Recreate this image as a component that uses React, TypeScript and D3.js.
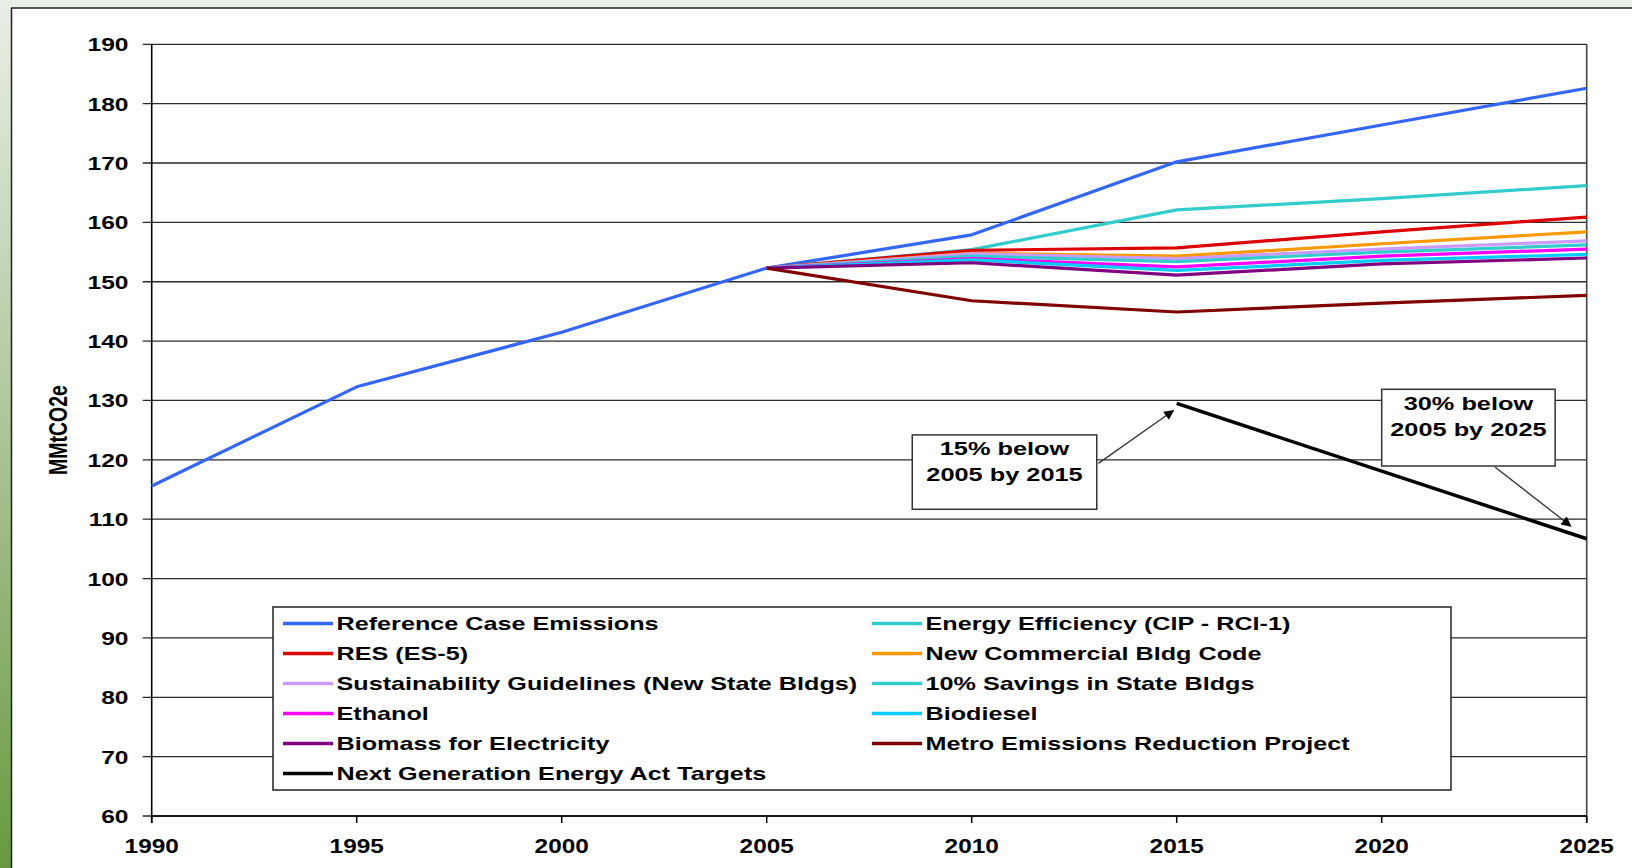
import React from 'react';
import * as d3 from 'd3';

// ---------- DATA ----------
const historyYears = [1990, 1995, 2000, 2005, 2010, 2015, 2020, 2025];
const scenarioYears = [2005, 2010, 2015, 2020, 2025];
const targetYears = [2015, 2025];

const referenceCase = [115.6, 132.3, 141.5, 152.3, 157.9, 170.2, 176.4, 182.6];
const energyEfficiency = [152.3, 155.4, 162.1, 164.0, 166.2];
const resES5 = [152.3, 155.3, 155.7, 158.4, 160.9];
const newCommercialBldg = [152.3, 154.8, 154.3, 156.4, 158.4];
const sustainability = [152.3, 154.7, 153.9, 155.5, 156.9];
const savings10 = [152.3, 154.3, 153.4, 155.0, 156.2];
const ethanol = [152.3, 153.9, 152.5, 154.3, 155.5];
const biodiesel = [152.3, 153.7, 151.9, 153.6, 154.6];
const biomass = [152.3, 153.2, 151.1, 153.0, 154.0];
const metroProject = [152.3, 146.8, 144.9, 146.4, 147.7];
const nextGenTargets = [129.5, 106.7];

const xTicks = [1990, 1995, 2000, 2005, 2010, 2015, 2020, 2025];
const yTicks = [60, 70, 80, 90, 100, 110, 120, 130, 140, 150, 160, 170, 180, 190];

const seriesNames = [
  'Reference Case Emissions',
  'Energy Efficiency (CIP - RCI-1)',
  'RES (ES-5)',
  'New Commercial Bldg Code',
  'Sustainability Guidelines (New State Bldgs)',
  '10% Savings in State Bldgs',
  'Ethanol',
  'Biodiesel',
  'Biomass for Electricity',
  'Metro Emissions Reduction Project',
  'Next Generation Energy Act Targets',
];
const seriesColors = [
  '#3366FF', '#33CCCC', '#DD0000', '#FF9900', '#CC99FF', '#33CCCC',
  '#FF00FF', '#00CCFF', '#800080', '#800000', '#000000',
];
const seriesValues = [
  referenceCase, energyEfficiency, resES5, newCommercialBldg, sustainability,
  savings10, ethanol, biodiesel, biomass, metroProject, nextGenTargets,
];
const seriesYears = [
  historyYears, scenarioYears, scenarioYears, scenarioYears, scenarioYears,
  scenarioYears, scenarioYears, scenarioYears, scenarioYears, scenarioYears, targetYears,
];

// annotations in data coordinates
const annotationLines = [
  ['15% below', '2005 by 2015'],
  ['30% below', '2005 by 2025'],
];
const annotationBoxes = [
  { x0: 2008.55, x1: 2013.05, yTop: 124.2, yBot: 111.67, from: [2013.09, 119.4], to: [2014.92, 128.3] },
  { x0: 2020.0, x1: 2024.23, yTop: 131.88, yBot: 118.96, from: [2022.77, 118.75], to: [2024.61, 108.85] },
];

// ---------- LAYOUT ----------
const W = 1632;
const H = 868;
const plotLeft = 151.7;
const plotRight = 1586.7;
const plotTop = 44.3;
const plotBottom = 816;
const FONT = 'Liberation Sans, Arial, Helvetica, sans-serif';

function SText(props: {
  x: number; y: number; sx: number; size: number; anchor?: string; weight?: string | number; rotate?: number; children: any;
}) {
  const { x, y, sx, size, anchor = 'start', weight = 'bold', rotate = 0, children } = props;
  return (
    <text
      transform={`translate(${x},${y}) scale(${sx},1)${rotate ? ` rotate(${rotate})` : ''}`}
      textAnchor={anchor}
      fontSize={size}
      fontWeight={weight}
      fontFamily={FONT}
      fill="#000"
    >
      {children}
    </text>
  );
}

export default function App() {
  const x = d3.scaleLinear().domain([1990, 2025]).range([plotLeft, plotRight]);
  const y = d3.scaleLinear().domain([60, 190]).range([plotBottom, plotTop]);

  const legendX0 = 273;
  const legendY0 = 607;
  const legendW = 1178;
  const legendH = 183;
  const colX = [283, 872];
  const rowH = 30;

  return (
    <svg
      width={W}
      height={H}
      viewBox={`0 0 ${W} ${H}`}
      style={{ position: 'absolute', left: 0, top: 0, display: 'block' }}
    >
      <defs>
        <linearGradient id="sideGrad" x1="0" y1="0" x2="0" y2="1">
          <stop offset="0" stopColor="#e9efe7" />
          <stop offset="0.45" stopColor="#b3c9a0" />
          <stop offset="1" stopColor="#679a40" />
        </linearGradient>
        <marker id="arrowHead" viewBox="0 0 10 10" refX="9" refY="5" markerWidth="12" markerHeight="10"
          markerUnits="userSpaceOnUse" orient="auto">
          <path d="M0,0 L10,5 L0,10 z" fill="#000" />
        </marker>
      </defs>

      {/* background frame */}
      <rect x={0} y={0} width={W} height={H} fill="#ffffff" />
      <rect x={0} y={0} width={W} height={8} fill="#e9eee9" />
      <rect x={0} y={0} width={11} height={H} fill="url(#sideGrad)" />
      <line x1={11} y1={8} x2={W} y2={8} stroke="#222" strokeWidth={1.5} />
      <line x1={11.5} y1={8} x2={11.5} y2={H} stroke="#222" strokeWidth={1.5} />

      {/* gridlines */}
      {yTicks.map((t) => (
        <line key={'g' + t} x1={plotLeft - 9} x2={plotRight} y1={y(t)} y2={y(t)} stroke="#2a2a2a" strokeWidth={1.3} />
      ))}
      {/* axes */}
      <line x1={plotLeft} x2={plotLeft} y1={plotTop} y2={plotBottom + 7} stroke="#000" strokeWidth={1.6} />
      <line x1={plotRight} x2={plotRight} y1={plotTop} y2={plotBottom + 7} stroke="#444" strokeWidth={1.6} />
      <line x1={plotLeft} x2={plotRight} y1={plotBottom} y2={plotBottom} stroke="#000" strokeWidth={1.6} />
      {xTicks.map((t) => (
        <line key={'xt' + t} x1={x(t)} x2={x(t)} y1={plotBottom} y2={plotBottom + 7} stroke="#000" strokeWidth={1.5} />
      ))}

      {/* tick labels */}
      {yTicks.map((t) => (
        <SText key={'yl' + t} x={128.5} y={y(t) + 7} sx={1.33} size={18.5} anchor="end">{t}</SText>
      ))}
      {xTicks.map((t) => (
        <SText key={'xl' + t} x={x(t)} y={852.5} sx={1.25} size={19.5} anchor="middle">{t}</SText>
      ))}
      <SText x={67} y={430} sx={1.35} size={19.5} anchor="middle" rotate={-90}>MMtCO2e</SText>

      {/* series lines */}
      {seriesValues.map((vals, i) => {
        const yrs = seriesYears[i];
        const pts = vals.map((v, j) => [yrs[j], v] as [number, number]);
        const path = d3.line<[number, number]>().x((d) => x(d[0])).y((d) => y(d[1]))(pts) || '';
        return (
          <path key={'s' + i} d={path} fill="none" stroke={seriesColors[i]}
            strokeWidth={i === 10 ? 3.5 : 3.2} strokeLinejoin="round" />
        );
      })}

      {/* legend */}
      <rect x={legendX0} y={legendY0} width={legendW} height={legendH} fill="#fff" stroke="#222" strokeWidth={1.5} />
      {seriesNames.map((name, i) => {
        const col = i % 2;
        const row = Math.floor(i / 2);
        const cy = legendY0 + 16.5 + row * rowH;
        const lx = colX[col];
        return (
          <g key={'lg' + i}>
            <line x1={lx} x2={lx + 50} y1={cy} y2={cy} stroke={seriesColors[i]} strokeWidth={3.6} />
            <SText x={lx + 53.5} y={cy + 6.3} sx={1.44} size={17.5}>{name}</SText>
          </g>
        );
      })}

      {/* annotations */}
      {annotationBoxes.map((b, i) => {
        const bx0 = x(b.x0);
        const bx1 = x(b.x1);
        const by0 = y(b.yTop);
        const by1 = y(b.yBot);
        const cx = (bx0 + bx1) / 2;
        return (
          <g key={'an' + i}>
            <rect x={bx0} y={by0} width={bx1 - bx0} height={by1 - by0} fill="#fff" stroke="#333" strokeWidth={1.5} />
            {annotationLines[i].map((t, k) => (
              <SText key={k} x={cx} y={by0 + 20.5 + k * 25.8} sx={1.37} size={18.5} anchor="middle">{t}</SText>
            ))}
            <line x1={x(b.from[0])} y1={y(b.from[1])} x2={x(b.to[0])} y2={y(b.to[1])}
              stroke="#333" strokeWidth={1.3} markerEnd="url(#arrowHead)" />
          </g>
        );
      })}
    </svg>
  );
}
